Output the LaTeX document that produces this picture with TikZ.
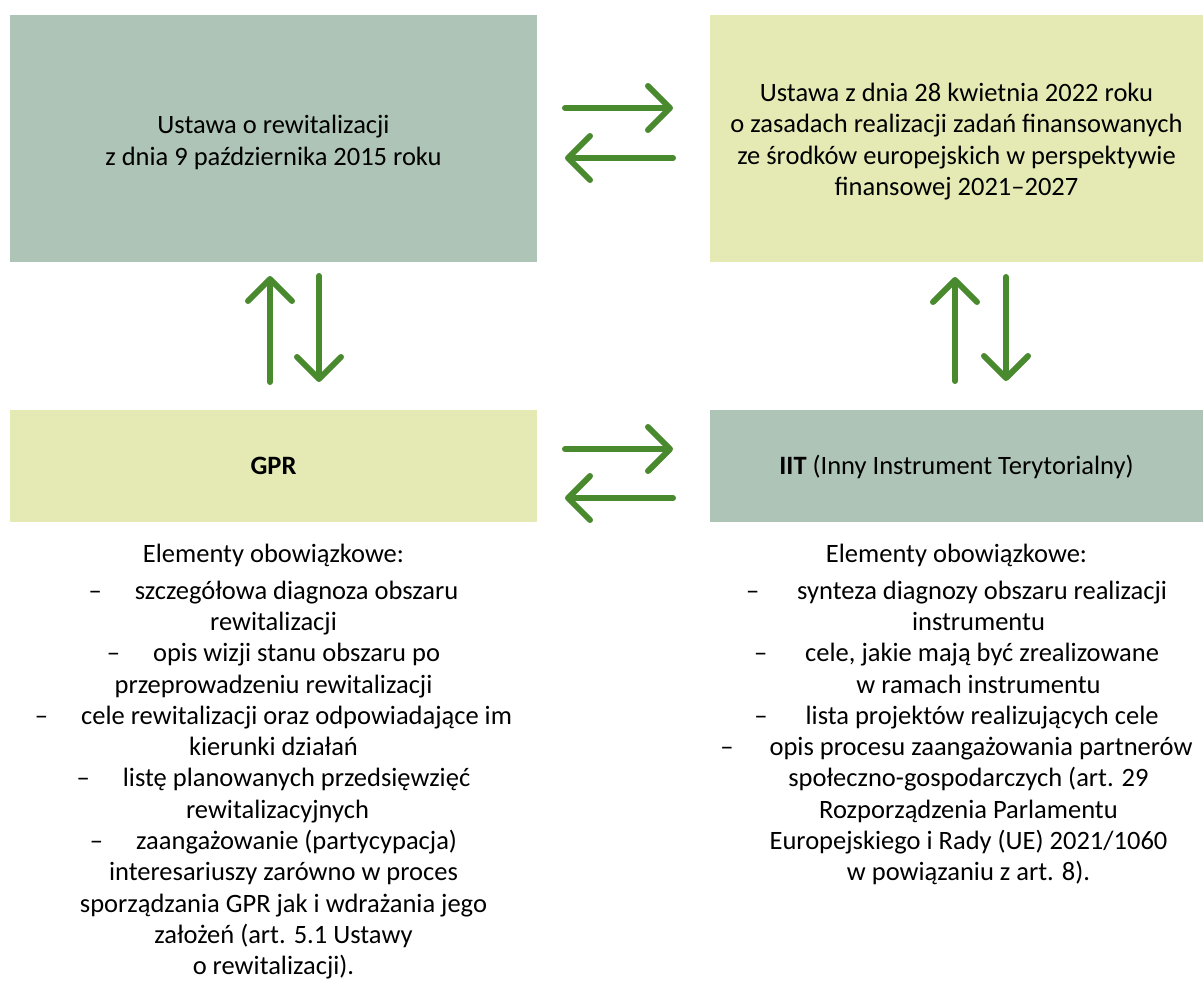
\documentclass[tikz,border=0pt]{standalone}
\usepackage{fontspec}
\setmainfont{Carlito}
\usetikzlibrary{arrows.meta}
\definecolor{sage}{RGB}{174,196,183}
\definecolor{pale}{RGB}{229,234,180}
\definecolor{arrgreen}{RGB}{74,138,46}
\newcommand{\dsh}[2][33pt]{–\hspace{#1}#2}
\newcommand{\shf}[2]{\hspace*{#1}#2}
\begin{document}
\begin{tikzpicture}[x=1pt,y=-1pt,
  box/.style={inner sep=0pt, outer sep=0pt, anchor=north west},
  txt/.style={font=\fontsize{26.5}{31.3}\selectfont, align=center, inner sep=0pt, text=black},
  arr/.style={draw=arrgreen, line width=6pt, line cap=round,
    -{Straight Barb[length=22pt,width=44pt,round]}}]
\useasboundingbox (0,0) rectangle (1203,993);
% boxes
\node[box, fill=sage, minimum width=527pt, minimum height=247pt] (A) at (10,15) {};
\node[box, fill=pale, minimum width=493pt, minimum height=247pt] (B) at (710,15) {};
\node[box, fill=pale, minimum width=527pt, minimum height=112pt] (C) at (10,410) {};
\node[box, fill=sage, minimum width=493pt, minimum height=112pt] (D) at (710,410) {};
% box texts
\node[txt] (At) at ([yshift=-4pt]A.center) {Ustawa o rewitalizacji\\z dnia 9 października 2015 roku};
\node[txt] (Bt) at ([yshift=-3pt]B.center) {Ustawa z dnia 28 kwietnia 2022 roku\\o zasadach realizacji zadań finansowanych\\ze środków europejskich w perspektywie\\finansowej 2021–2027};
\node[txt, anchor=base] (Ct) at (273.5,474) {\textbf{GPR}};
\node[txt, anchor=base] (Dt) at (956.5,474) {\textbf{IIT} (Inny Instrument Terytorialny)};
% lists
\node[txt, anchor=north] (L) at (273.5,543.5) {Elementy obowiązkowe:\\[5.7pt]
\dsh{szczegółowa diagnoza obszaru}\\
rewitalizacji\\
\dsh{opis wizji stanu obszaru po}\\
przeprowadzeniu rewitalizacji\\
\dsh{cele rewitalizacji oraz odpowiadające im}\\
kierunki działań\\
\dsh{listę planowanych przedsięwzięć}\\
\shf{8pt}{rewitalizacyjnych}\\
\dsh{zaangażowanie (partycypacja)}\\
\shf{20pt}{interesariuszy zarówno w proces}\\
\shf{20pt}{sporządzania GPR jak i wdrażania jego}\\
\shf{20pt}{założeń (art. 5.1 Ustawy}\\
o rewitalizacji).};
\node[txt, anchor=north] (R) at (956.5,543.5) {Elementy obowiązkowe:\\[5.7pt]
\dsh[38pt]{synteza diagnozy obszaru realizacji}\\
\shf{44pt}{instrumentu}\\
\dsh[38pt]{cele, jakie mają być zrealizowane}\\
\shf{44pt}{w ramach instrumentu}\\
\dsh[38pt]{lista projektów realizujących cele}\\
\dsh[36pt]{opis procesu zaangażowania partnerów}\\
\shf{24pt}{społeczno-gospodarczych (art. 29}\\
\shf{24pt}{Rozporządzenia Parlamentu}\\
\shf{24pt}{Europejskiego i Rady (UE) 2021/1060}\\
\shf{24pt}{w powiązaniu z art. 8).}};
% arrows
\coordinate (h1s) at (565,108); \coordinate (h1e) at (673,108);
\coordinate (h2s) at (673,158); \coordinate (h2e) at (565,158);
\coordinate (h3s) at (565,449); \coordinate (h3e) at (673,449);
\coordinate (h4s) at (673,498); \coordinate (h4e) at (565,498);
\coordinate (v1s) at (270,382); \coordinate (v1e) at (270,276);
\coordinate (v2s) at (319,276); \coordinate (v2e) at (319,382);
\coordinate (v3s) at (955,381); \coordinate (v3e) at (955,277);
\coordinate (v4s) at (1006,277); \coordinate (v4e) at (1006,381);
\draw[arr] (h1s) -- (h1e);
\draw[arr] (h2s) -- (h2e);
\draw[arr] (h3s) -- (h3e);
\draw[arr] (h4s) -- (h4e);
\draw[arr] (v1s) -- (v1e);
\draw[arr] (v2s) -- (v2e);
\draw[arr] (v3s) -- (v3e);
\draw[arr] (v4s) -- (v4e);
\end{tikzpicture}
\end{document}
